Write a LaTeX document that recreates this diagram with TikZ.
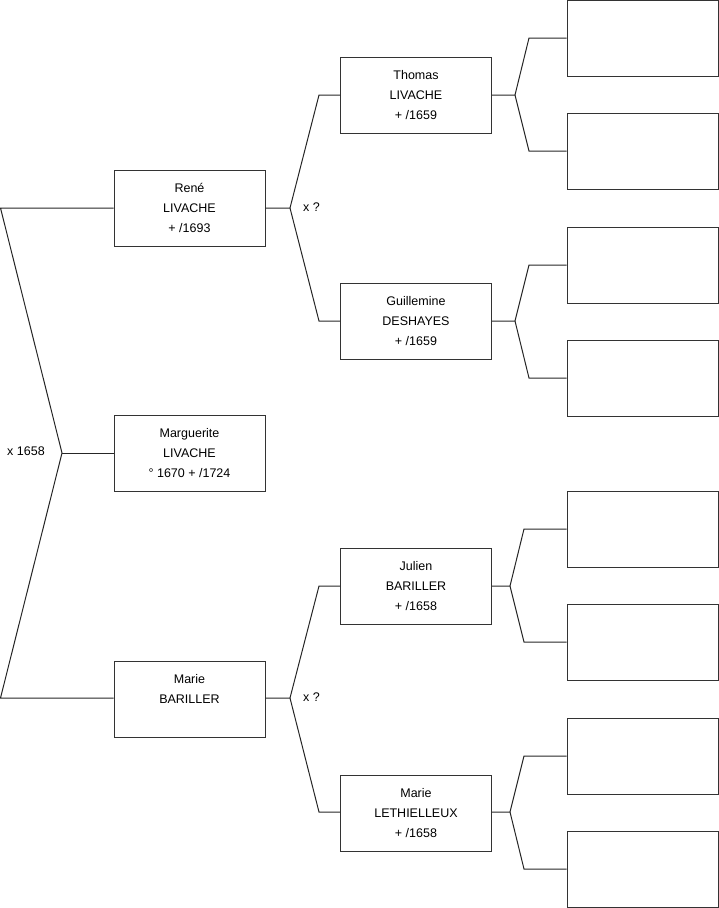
\documentclass[tikz,border=0pt]{standalone}
\usepackage{fontspec}
\setmainfont{Liberation Sans}
\begin{document}
\begin{tikzpicture}[x=1pt,y=-1pt,
  person/.style={draw=black!80, line width=1pt, fill=white, minimum width=151pt, minimum height=76pt, inner sep=0pt, align=center, font=\fontsize{12.5}{20}\selectfont},
  link/.style={draw=black!85, line width=1pt},
  lab/.style={font=\fontsize{12.5}{15}\selectfont, inner sep=0pt, anchor=west}]
\useasboundingbox (0,0) rectangle (719,908);
% generation 1
\node[person] (rene) at (189.5,208) {René\\LIVACHE\\+ /1693};
\node[person] (marg) at (189.5,453.5) {Marguerite\\LIVACHE\\° 1670 + /1724};
\node[person] (marie) at (189.5,699) {Marie\\BARILLER\\\mbox{}};
% generation 2
\node[person] (thomas) at (416,95) {Thomas\\LIVACHE\\+ /1659};
\node[person] (guil) at (416,321) {Guillemine\\DESHAYES\\+ /1659};
\node[person] (julien) at (416,586) {Julien\\BARILLER\\+ /1658};
\node[person] (leth) at (416,813) {Marie\\LETHIELLEUX\\+ /1658};
% generation 3 (empty)
\node[person] (e1) at (642.5,38) {};
\node[person] (e2) at (642.5,151) {};
\node[person] (e3) at (642.5,265) {};
\node[person] (e4) at (642.5,378) {};
\node[person] (e5) at (642.5,529) {};
\node[person] (e6) at (642.5,642) {};
\node[person] (e7) at (642.5,756) {};
\node[person] (e8) at (642.5,869) {};
% junction coordinates
\coordinate (L1) at (0.5,208);
\coordinate (J0) at (62,453);
\coordinate (L2) at (0.5,698);
\coordinate (J1) at (290,208);
\coordinate (J2) at (290,698);
\coordinate (J3) at (515,95);
\coordinate (J4) at (515,321);
\coordinate (J5) at (510,586);
\coordinate (J6) at (510,812);
\coordinate (K6) at (319,812);
% connectors
\draw[link] (L1 -| rene.west) -- (L1) -- (J0) -- (L2) -- (L2 -| marie.west);
\draw[link] (J0) -- (J0 -| marg.west);
\node[lab] (m0) at (7,451) {x 1658};
\draw[link] (J1 -| rene.east) -- (J1) -- (319,95) -- (thomas.west);
\draw[link] (J1) -- (319,321) -- (guil.west);
\node[lab] (m1) at (303,207) {x ?};
\draw[link] (J2 -| marie.east) -- (J2) -- (319,586) -- (julien.west);
\draw[link] (J2) -- (K6) -- (K6 -| leth.west);
\node[lab] (m2) at (303,697) {x ?};
\draw[link] (thomas.east) -- (J3) -- (529,38) -- (e1.west);
\draw[link] (J3) -- (529,151) -- (e2.west);
\draw[link] (guil.east) -- (J4) -- (529,265) -- (e3.west);
\draw[link] (J4) -- (529,378) -- (e4.west);
\draw[link] (julien.east) -- (J5) -- (524,529) -- (e5.west);
\draw[link] (J5) -- (524,642) -- (e6.west);
\draw[link] (J6 -| leth.east) -- (J6) -- (524,756) -- (e7.west);
\draw[link] (J6) -- (524,869) -- (e8.west);
\end{tikzpicture}
\end{document}
